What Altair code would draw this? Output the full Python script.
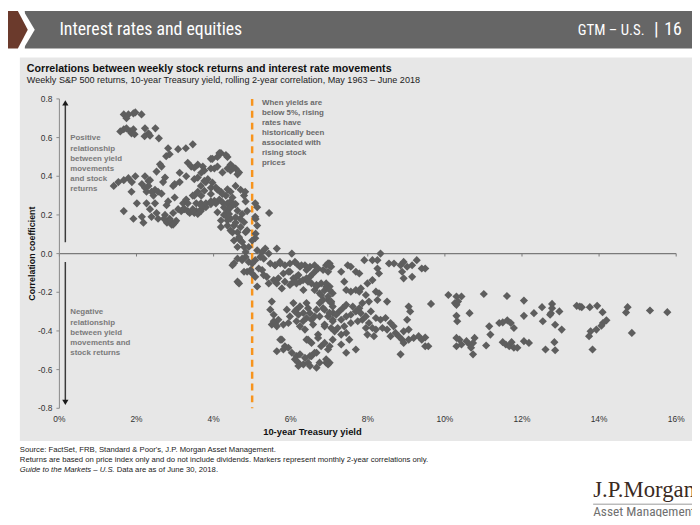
import altair as alt
import pandas as pd

# ---------------- data ----------------
x_ticks = [0, 2, 4, 6, 8, 10, 12, 14, 16]
x_tick_labels = ["0%", "2%", "4%", "6%", "8%", "10%", "12%", "14%", "16%"]
y_ticks = [-0.8, -0.6, -0.4, -0.2, 0.0, 0.2, 0.4, 0.6, 0.8]
y_tick_labels = ["-0.8", "-0.6", "-0.4", "-0.2", "0.0", "0.2", "0.4", "0.6", "0.8"]

# positive-correlation cloud (low yields)
pos_yield = [1.67, 1.79, 1.92, 1.97, 2.13, 1.74, 1.58, 1.67, 1.74, 1.84, 1.87, 1.92, 1.95, 2.22, 2.31, 2.21,
             2.49, 2.58, 2.77, 2.82, 2.86, 3.08, 3.28, 3.46, 2.65, 1.41, 1.53, 1.67, 1.79, 1.88, 1.97, 1.67,
             1.87, 1.92, 2.14, 2.18, 2.01, 2.14, 2.22, 2.26, 2.31, 2.39, 2.44, 2.48, 2.35, 2.56, 2.26, 2.35,
             2.48, 2.52, 2.39, 2.56, 2.69, 2.65, 2.78, 2.74, 2.86, 2.91, 2.99, 2.82, 2.95, 2.99, 3.08, 3.21,
             3.33, 3.12, 2.22, 2.31, 2.52, 2.61, 2.74, 2.99, 3.12, 2.71, 2.79, 2.87, 2.95, 3.03, 2.95, 3.16,
             3.25, 3.38, 3.55, 3.68, 3.80, 3.55, 3.46, 3.21, 3.33, 3.46, 3.50, 3.59, 3.67, 3.67, 3.80, 3.93,
             4.06, 4.15, 4.36, 4.44, 3.29, 3.50, 3.59, 3.33, 3.42, 3.59, 3.72, 3.76, 3.93, 4.02, 4.10, 4.23,
             4.36, 4.44, 4.57, 4.62, 3.93, 4.10, 4.19, 4.36, 4.44, 4.49, 3.97, 4.15, 4.32, 3.29, 3.50, 3.67,
             3.80, 3.93, 4.10, 4.19, 4.32, 4.44, 4.57, 4.70, 4.79, 4.83, 3.85, 3.97, 4.06, 4.15, 4.23, 4.36,
             3.93, 4.02, 3.76, 3.68, 3.59, 3.68, 3.50, 3.76, 4.27, 4.44, 4.53, 4.62, 4.66, 4.74, 4.79, 4.83,
             4.49, 4.57, 4.36, 4.49, 4.57, 4.44, 4.62, 4.74, 4.79, 4.70, 4.83, 4.27, 4.32, 4.36, 4.19, 4.44,
             4.70, 5.08, 5.13, 5.44, 5.08, 5.13, 5.08, 4.87, 4.69, 4.82, 4.49, 4.66, 3.68, 3.93, 4.23, 4.53,
             4.10, 4.19, 4.36, 4.57, 4.87, 4.53, 4.66, 4.91, 5.00, 5.09, 5.09, 4.62, 4.40, 2.35]
pos_corr = [0.72, 0.72, 0.725, 0.73, 0.72, 0.70, 0.632, 0.643, 0.648, 0.632, 0.622, 0.643, 0.617, 0.648, 0.622, 0.607,
            0.648, 0.596, 0.504, 0.545, 0.514, 0.54, 0.545, 0.565, 0.45, 0.35, 0.37, 0.38, 0.39, 0.37, 0.40, 0.22,
            0.32, 0.18, 0.19, 0.16, 0.26, 0.36, 0.34, 0.32, 0.35, 0.32, 0.30, 0.33, 0.38, 0.32, 0.26, 0.23,
            0.26, 0.21, 0.19, 0.18, 0.37, 0.31, 0.25, 0.20, 0.18, 0.15, 0.16, 0.27, 0.35, 0.29, 0.23, 0.26,
            0.26, 0.37, 0.40, 0.376, 0.424, 0.462, 0.393, 0.359, 0.418, 0.18, 0.16, 0.17, 0.15, 0.17, 0.21, 0.22,
            0.23, 0.21, 0.22, 0.23, 0.24, 0.26, 0.30, 0.23, 0.22, 0.23, 0.21, 0.205, 0.22, 0.26, 0.26, 0.27,
            0.26, 0.28, 0.26, 0.27, 0.28, 0.30, 0.32, 0.47, 0.45, 0.46, 0.45, 0.43, 0.44, 0.44, 0.45, 0.42,
            0.44, 0.43, 0.44, 0.41, 0.49, 0.50, 0.52, 0.50, 0.46, 0.44, 0.49, 0.52, 0.51, 0.40, 0.385, 0.35,
            0.37, 0.34, 0.33, 0.32, 0.30, 0.32, 0.35, 0.33, 0.30, 0.27, 0.385, 0.367, 0.342, 0.325, 0.308, 0.333,
            0.308, 0.273, 0.325, 0.299, 0.393, 0.418, 0.444, 0.376, 0.20, 0.18, 0.145, 0.11, 0.077, 0.06, 0.034, 0.008,
            0.11, 0.16, 0.22, 0.29, 0.256, 0.239, 0.222, 0.205, 0.162, 0.137, 0.111, 0.239, 0.196, 0.171, 0.137, 0.12,
            0.068, 0.26, 0.24, 0.21, 0.19, 0.145, 0.08, 0.22, 0.18, 0.32, 0.45, 0.42, 0.248, 0.256, 0.265, 0.256,
            0.214, 0.171, 0.145, 0.188, 0.12, 0.068, 0.085, 0.034, 0.068, 0.103, 0.179, 0.034, 0.205, 0.61]

# transition around zero (yields 4.5%-7%)
zero_yield = [5.13, 5.26, 5.34, 5.43, 5.64, 6.03, 4.62, 4.74, 4.83, 4.53, 4.49, 4.91, 5.08, 4.62, 4.66, 4.87,
              4.96, 5.08, 5.13, 5.26, 5.38, 5.43, 5.56, 5.68, 5.77, 5.59, 5.72, 5.85, 5.98, 6.11, 6.15, 6.24,
              6.37, 6.41, 6.50, 6.62, 6.71, 6.67, 6.84, 6.97, 7.05, 6.67, 6.79, 6.88, 7.01, 7.09, 6.75, 6.97,
              6.50, 6.54, 6.41, 6.24, 6.33, 6.07, 6.15, 5.98, 4.74, 5.00, 5.21, 5.30, 5.47, 5.60, 5.73, 5.98,
              6.15, 6.28, 4.79, 5.00, 5.17, 5.30, 5.81, 5.94, 6.20, 6.32, 6.45, 6.58, 6.92, 7.01, 6.07, 5.85, 5.64]
zero_corr = [0.017, 0.008, 0.026, 0.0, 0.026, 0.0, -0.026, -0.034, -0.017, -0.05, -0.06, -0.043, -0.034, -0.145, -0.154, -0.094,
             -0.085, -0.12, -0.17, -0.085, -0.12, -0.154, -0.137, -0.128, -0.18, -0.06, -0.043, -0.06, -0.094, -0.043, -0.12, -0.068,
             -0.06, -0.085, -0.068, -0.06, -0.077, -0.085, -0.085, -0.05, -0.068, -0.17, -0.154, -0.19, -0.17, -0.205, -0.205, -0.24,
             -0.12, -0.154, -0.128, -0.145, -0.188, -0.128, -0.154, -0.162, -0.026, -0.051, -0.017, -0.026, -0.051, -0.06, -0.051, -0.051,
             -0.051, -0.06, -0.094, -0.103, -0.077, -0.111, -0.103, -0.094, -0.111, -0.137, -0.145, -0.103, -0.06, -0.051, -0.145, -0.145, -0.154]

# lower cloud (yields 5.4%-7.1%)
low_yield = [5.51, 5.47, 5.56, 5.60, 5.51, 5.64, 5.81, 5.94, 5.98, 5.90, 6.07, 6.15, 6.24, 6.33, 6.41, 6.54,
             6.58, 6.67, 6.75, 6.84, 6.88, 6.97, 6.88, 7.10, 7.05, 5.77, 5.85, 5.94, 6.03, 6.15, 5.64, 6.11,
             6.20, 6.33, 6.45, 6.54, 6.67, 6.79, 6.88, 6.97, 7.01, 6.67, 6.41, 6.54, 6.71, 5.56, 5.68, 5.73,
             5.81, 6.11, 6.20, 6.15, 6.24, 6.32, 6.37, 6.45, 6.62, 6.50, 6.37, 6.24, 6.20, 6.50, 6.75, 6.92,
             6.71, 6.62, 6.50, 6.45, 6.41, 6.62, 6.67, 6.79, 6.92, 7.05, 6.84, 6.75, 7.01, 7.09, 6.88]
low_corr = [-0.248, -0.29, -0.316, -0.359, -0.367, -0.376, -0.367, -0.359, -0.325, -0.29, -0.256, -0.29, -0.273, -0.307, -0.333, -0.342,
            -0.367, -0.29, -0.256, -0.239, -0.29, -0.325, -0.376, -0.307, -0.385, -0.445, -0.479, -0.487, -0.513, -0.53, -0.505, -0.547,
            -0.564, -0.573, -0.564, -0.53, -0.513, -0.479, -0.462, -0.496, -0.564, -0.59, -0.445, -0.462, -0.436, -0.35, -0.342, -0.445,
            -0.496, -0.299, -0.316, -0.35, -0.376, -0.35, -0.393, -0.445, -0.513, -0.53, -0.539, -0.521, -0.581, -0.581, -0.564, -0.564,
            -0.419, -0.325, -0.308, -0.282, -0.256, -0.188, -0.162, -0.214, -0.171, -0.256, -0.282, -0.325, -0.308, -0.35, -0.367]

# mid-yield cloud (7%-9.7%)
mid_yield = [8.33, 7.91, 8.12, 8.25, 8.25, 8.29, 8.55, 8.68, 8.85, 8.93, 9.02, 9.15, 9.27, 9.40, 8.89, 8.93,
             9.15, 7.01, 6.97, 7.31, 7.48, 7.56, 7.69, 7.78, 6.92, 7.01, 6.97, 7.05, 7.09, 7.01, 7.39, 7.44,
             7.56, 7.69, 7.78, 7.82, 7.99, 8.12, 8.21, 8.25, 8.29, 7.95, 8.03, 8.50, 7.86, 7.78, 7.61, 7.44,
             7.35, 7.26, 7.18, 7.09, 7.31, 7.44, 7.56, 7.69, 7.82, 7.86, 7.74, 7.56, 7.39, 7.22, 7.14, 7.31,
             7.44, 7.52, 7.09, 7.01, 7.31, 7.44, 6.92, 6.97, 7.69, 7.95, 8.08, 8.03, 8.21, 8.33, 8.46, 8.59,
             8.67, 8.50, 8.38, 8.21, 8.12, 7.95, 7.99, 8.16, 8.59, 8.72, 8.80, 8.89, 8.93, 9.06, 9.19, 9.32,
             9.40, 9.49, 9.06, 9.10, 9.02, 9.06, 8.93, 8.85, 9.64, 9.49, 9.49, 9.57]
mid_corr = [0.0, -0.034, -0.034, -0.034, -0.077, -0.103, -0.051, -0.051, -0.06, -0.043, -0.068, -0.06, -0.034, -0.077, -0.094, -0.128,
            -0.12, -0.06, -0.094, -0.094, -0.06, -0.068, -0.094, -0.103, -0.154, -0.188, -0.222, -0.248, -0.274, -0.308, -0.145, -0.188,
            -0.197, -0.188, -0.197, -0.18, -0.154, -0.137, -0.197, -0.24, -0.205, -0.214, -0.248, -0.248, -0.256, -0.282, -0.274, -0.265,
            -0.282, -0.299, -0.316, -0.342, -0.342, -0.325, -0.316, -0.299, -0.308, -0.342, -0.35, -0.359, -0.376, -0.385, -0.402, -0.419,
            -0.41, -0.445, -0.445, -0.479, -0.47, -0.513, -0.547, -0.573, -0.496, -0.325, -0.299, -0.359, -0.333, -0.342, -0.333, -0.359,
            -0.376, -0.393, -0.385, -0.393, -0.385, -0.385, -0.419, -0.427, -0.427, -0.41, -0.427, -0.445, -0.462, -0.445, -0.436, -0.427,
            -0.445, -0.479, -0.274, -0.299, -0.342, -0.393, -0.402, -0.521, -0.26, -0.077, -0.434, -0.479]

# high-yield cloud (above ~10%)
high_yield = [10.09, 10.30, 10.43, 10.26, 10.30, 10.34, 11.01, 11.61, 12.05, 12.52, 12.78, 12.78, 12.75, 12.73, 12.97, 12.31,
              12.05, 10.64, 10.30, 10.32, 13.42, 13.50, 13.55, 13.76, 13.95, 14.09, 14.74, 14.70, 15.32, 15.77, 12.54, 12.86,
              13.03, 14.19, 14.10, 14.06, 13.93, 13.78, 13.74, 13.83, 14.85, 11.41, 11.50, 11.62, 11.71, 11.79, 11.15, 11.18,
              10.30, 10.38, 10.30, 10.43, 10.56, 10.64, 10.68, 10.77, 10.73, 10.73, 11.07, 11.50, 11.58, 11.67, 11.73, 11.79,
              11.88, 12.05, 12.18, 12.61, 12.84, 12.86]
high_corr = [-0.214, -0.222, -0.222, -0.256, -0.265, -0.248, -0.209, -0.219, -0.243, -0.277, -0.26, -0.282, -0.308, -0.316, -0.299, -0.308,
             -0.322, -0.308, -0.322, -0.35, -0.27, -0.274, -0.277, -0.277, -0.27, -0.303, -0.277, -0.304, -0.294, -0.303, -0.35, -0.368,
             -0.393, -0.345, -0.359, -0.373, -0.393, -0.402, -0.427, -0.496, -0.41, -0.359, -0.356, -0.345, -0.359, -0.385, -0.376, -0.419,
             -0.436, -0.445, -0.479, -0.47, -0.453, -0.47, -0.487, -0.436, -0.462, -0.521, -0.475, -0.458, -0.47, -0.479, -0.458, -0.487,
             -0.487, -0.453, -0.462, -0.496, -0.458, -0.5]

# ---------------- build ----------------
yields = pos_yield + zero_yield + low_yield + mid_yield + high_yield
corrs = pos_corr + zero_corr + low_corr + mid_corr + high_corr
df = pd.DataFrame({"yield": yields, "corr": corrs})
xt_df = pd.DataFrame({"t": x_ticks, "lab": x_tick_labels})
yt_df = pd.DataFrame({"v": y_ticks, "lab": y_tick_labels})
one = pd.DataFrame({"k": [0]})

SANS = "Liberation Sans, Arial, sans-serif"
NARROW = "Liberation Sans Narrow, Roboto Condensed, DejaVu Sans Condensed, sans-serif"
SERIF = "Liberation Serif, Times New Roman, serif"

W, H = 624, 313
xs = alt.Scale(domain=[0, 16], nice=False, zero=False)
ys = alt.Scale(domain=[-0.8, 0.8], nice=False, zero=False)


def text(x, y, s, size=8, color="#333333", weight="normal", align="left",
         baseline="middle", font=SANS, style="normal", lh=None, angle=0):
    kw = dict(align=align, baseline=baseline, fontSize=size, color=color,
              fontWeight=weight, font=font, fontStyle=style, angle=angle)
    if lh:
        kw.update(lineBreak="\n", lineHeight=lh)
    return alt.Chart(one).mark_text(**kw).encode(
        x=alt.value(x), y=alt.value(y), text=alt.value(s))


def rect(x, x2, y, y2, color):
    return alt.Chart(one).mark_rect(color=color).encode(
        x=alt.value(x), x2=alt.value(x2), y=alt.value(y), y2=alt.value(y2))


def shape(x, y, path, size, color):
    return alt.Chart(one).mark_point(shape=path, size=size, filled=True, opacity=1,
                                     color=color, strokeWidth=0).encode(
        x=alt.value(x), y=alt.value(y))


panel = rect(-40, 640, -42, 346, "#E7E7E7")
header = rect(-35, 640, -89, -51, "#666666")
notch = shape(-35, -70, "M-0.1,-1.05L0.53,0L-0.1,1.05Z", 1444, "#FFFFFF")
brown = shape(-46, -70, "M-0.737,-1L0.21,-1L0.737,0L0.21,1L-0.737,1Z", 1444, "#6B3A2C")

points = alt.Chart(df).mark_point(shape="diamond", filled=True, size=68, opacity=1,
                                  color="#5E5E5E").encode(
    x=alt.X("yield:Q", scale=xs, axis=None),
    y=alt.Y("corr:Q", scale=ys, axis=None),
)

# hand-built axes (drawn through the same scales)
y_domain = alt.Chart(one).mark_rule(color="#8A8A8A", strokeWidth=1).encode(
    x=alt.value(0), y=alt.value(0), y2=alt.value(H))
y_tick_marks = alt.Chart(yt_df).mark_rule(color="#8A8A8A", strokeWidth=1).encode(
    x=alt.value(-3), x2=alt.value(0), y=alt.Y("v:Q", scale=ys, axis=None))
y_labels = alt.Chart(yt_df).mark_text(align="right", baseline="middle", font=SANS, fontSize=8.5,
                                      color="#333333").encode(
    x=alt.value(-7), y=alt.Y("v:Q", scale=ys, axis=None), text="lab:N")
x_labels = alt.Chart(xt_df).mark_text(align="center", baseline="top", font=SANS, fontSize=8.5,
                                      color="#333333").encode(
    x=alt.X("t:Q", scale=xs, axis=None), y=alt.value(H + 7), text="lab:N")

zero_line = alt.Chart(one).mark_rule(color="#7A7A7A", strokeWidth=1.2).encode(
    x=alt.datum(0, scale=xs, axis=None), x2=alt.datum(16), y=alt.datum(0, scale=ys, axis=None))
zero_ticks = alt.Chart(xt_df).mark_rule(color="#7A7A7A", strokeWidth=1).encode(
    x=alt.X("t:Q", scale=xs, axis=None), y=alt.datum(0, scale=ys, axis=None), y2=alt.datum(-0.015))
five_line = alt.Chart(one).mark_rule(color="#F7941D", strokeWidth=2.5, strokeDash=[7, 5]).encode(
    x=alt.datum(5, scale=xs, axis=None), y=alt.datum(0.8, scale=ys, axis=None), y2=alt.datum(-0.8))

arrow_up = alt.Chart(one).mark_rule(color="#3A3A3A", strokeWidth=1.5).encode(
    x=alt.value(6), y=alt.value(6), y2=alt.value(145))
arrow_dn = alt.Chart(one).mark_rule(color="#3A3A3A", strokeWidth=1.5).encode(
    x=alt.value(6), y=alt.value(165), y2=alt.value(306))
head_up = shape(6, 4, "triangle-up", 40, "#1A1A1A")
head_dn = shape(6, 307, "triangle-down", 40, "#1A1A1A")

texts = [
    text(0, -70, "Interest rates and equities", size=18, color="#FFFFFF", font=NARROW),
    text(592, -70, "GTM \u2013 U.S.", size=15, color="#FFFFFF", font=NARROW, align="right"),
    text(604, -71, "|", size=19, color="#FFFFFF", font=NARROW, align="center"),
    text(612, -70, "16", size=18, color="#FFFFFF", font=NARROW),
    text(-33, -30, "Correlations between weekly stock returns and interest rate movements",
         size=10.8, color="#111111", weight="bold"),
    text(-33, -19, "Weekly S&P 500 returns, 10-year Treasury yield, rolling 2-year correlation, May 1963 \u2013 June 2018",
         size=9.2, color="#222222"),
    text(-28, H / 2, "Correlation coefficient", size=9, color="#111111", weight="bold",
         align="center", angle=270),
    text(256, H + 24, "10-year Treasury yield", size=9.5, color="#111111", weight="bold", align="center"),
    text(11, 36, "Positive\nrelationship\nbetween yield\nmovements\nand stock\nreturns",
         size=8, color="#7A7A7A", weight="bold", baseline="top", lh=10.3),
    text(11, 212, "Negative\nrelationship\nbetween yield\nmovements and\nstock returns",
         size=8, color="#7A7A7A", weight="bold", baseline="top", lh=10.3),
    text(205, 0, "When yields are\nbelow 5%, rising\nrates have\nhistorically been\nassociated with\nrising stock\nprices",
         size=8, color="#6A6A6A", weight="bold", baseline="top", lh=10.2),
    text(-40, 355, "Source: FactSet, FRB, Standard & Poor's, J.P. Morgan Asset Management.", size=7.8, color="#222222"),
    text(-40, 365, "Returns are based on price index only and do not include dividends. Markers represent monthly 2-year correlations only.",
         size=7.8, color="#222222"),
    text(-40, 375, "Guide to the Markets \u2013 U.S.", size=7.8, color="#222222", style="italic"),
    text(58, 375, "Data are as of June 30, 2018.", size=7.8, color="#222222"),
    text(540, 396, "J.P.Morgan", size=23, color="#3A2A22", font=SERIF),
    text(540, 418, "Asset Management", size=13.5, color="#707070", font=NARROW),
]
logo_rule = alt.Chart(one).mark_rule(color="#9A9A9A", strokeWidth=1).encode(
    x=alt.value(540), x2=alt.value(640), y=alt.value(410))

chart = alt.layer(
    panel, header, notch, brown, zero_line, zero_ticks, five_line,
    y_domain, y_tick_marks, y_labels, x_labels,
    arrow_up, arrow_dn, head_up, head_dn, points, logo_rule, *texts
).properties(
    width=W, height=H,
    autosize=alt.AutoSizeParams(type="none"),
    padding={"left": 52, "top": 89, "right": 16, "bottom": 107},
    background="#FFFFFF",
).configure_view(stroke=None)

chart.save("out.html", embed_options={"renderer": "svg", "actions": False})
